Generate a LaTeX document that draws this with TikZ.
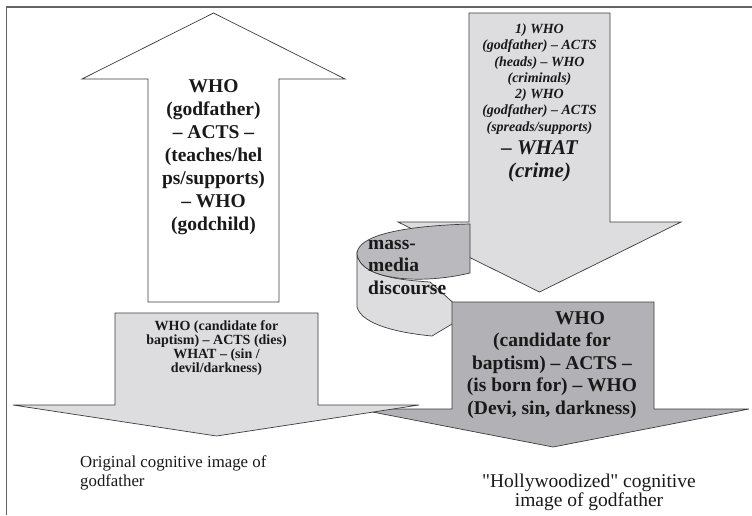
\documentclass[tikz,border=0pt]{standalone}
\usepackage{fontspec}
\setmainfont{Liberation Serif}
\newfontfamily\capfont{Liberation Serif}[Ligatures=TeXOff]
\definecolor{lightgr}{RGB}{221,221,223}
\definecolor{darkgr}{RGB}{178,178,182}
\definecolor{backgr}{RGB}{186,186,190}
\definecolor{linec}{RGB}{60,60,60}
\definecolor{framec}{RGB}{100,100,100}
\definecolor{txtc}{RGB}{25,25,25}
\begin{document}
\begin{tikzpicture}[x=1pt,y=-1pt,
  shapeline/.style={draw=linec, line width=0.7pt, line join=miter},
  lightarrow/.style={shapeline, fill=lightgr},
  whitearrow/.style={shapeline, fill=white},
  darkarrow/.style={shapeline, fill=darkgr},
  backface/.style={shapeline, fill=backgr},
  boldtxt/.style={align=center, inner sep=0pt, text=txtc, font=\bfseries},
  captxt/.style={inner sep=0pt, text=txtc}]
\useasboundingbox (0,0) rectangle (752,515);
% frame (only top and left edges visible)
\draw[framec, line width=1.6pt] (6.5,515) -- (6.5,7) -- (752,7);
% white up arrow
\path[whitearrow] (213.5,13) -- (345,79) -- (279,79) -- (279,302) -- (148,302) -- (148,79) -- (82,79) -- cycle;
% right light down arrow
\path[lightarrow] (469,13) -- (610,13) -- (610,222) -- (681,222) -- (539.5,292) -- (398,222) -- (469,222) -- cycle;
% curved mass-media arrow: front face
\path[lightarrow] (357,254) -- (357,307)
  .. controls (362,325) and (400,333) .. (432,336)
  -- (467,315) -- (430,282)
  .. controls (400,280) and (360,276) .. (357,254) -- cycle;
% curved arrow: back face
\path[backface] (470,224) .. controls (400,226) and (357,236) .. (357,254)
  .. controls (360,280) and (420,285) .. (470,273) -- cycle;
% dark down arrow
\path[darkarrow] (452,302) -- (654,302) -- (654,409) -- (749,409) -- (553,447) -- (357,409) -- (452,409) -- cycle;
% left light down arrow
\path[lightarrow] (115,313) -- (318,313) -- (318,405) -- (419,405) -- (216.5,436) -- (13,405) -- (115,405) -- cycle;
% texts
\node[boldtxt, font=\fontsize{19.5}{23}\selectfont\bfseries] (upt) at (213.5,157.5)
  {WHO\\(godfather)\\– ACTS –\\(teaches/hel\\ps/supports)\\– WHO\\(godchild)};
\node[boldtxt, font=\fontsize{14}{16.3}\selectfont\bfseries\itshape] (rt1) at (539.5,79)
  {1) WHO\\(godfather) – ACTS\\(heads) – WHO\\(criminals)\\2) WHO\\(godfather) – ACTS\\(spreads/supports)};
\node[boldtxt, font=\fontsize{21}{23}\selectfont\bfseries\itshape] (rt2) at (539.5,161.5)
  {– WHAT\\(crime)};
\node[boldtxt, font=\fontsize{14}{14}\selectfont\bfseries] (lt) at (216.5,348)
  {WHO (candidate for\\baptism) – ACTS (dies)\\WHAT – (sin /\\devil/darkness)};
\node[boldtxt, font=\fontsize{19.5}{22.5}\selectfont\bfseries] (dt) at (552,365)
  {\hspace*{56pt}WHO\\(candidate for\\baptism) – ACTS –\\(is born for) – WHO\\(Devi, sin, darkness)};
\node[boldtxt, align=left, anchor=west, font=\fontsize{19.5}{22.5}\selectfont\bfseries] (mm) at (368,267.5)
  {mass-\\media\\discourse};
\node[captxt, align=left, anchor=west, font=\fontsize{16.8}{19}\selectfont] (cap1) at (80,472.5)
  {Original cognitive image of\\godfather};
\node[captxt, align=center, font=\fontsize{19.5}{19.5}\selectfont\capfont] (cap2) at (589,492.5)
  {"Hollywoodized" cognitive\\image of godfather};
\end{tikzpicture}
\end{document}
